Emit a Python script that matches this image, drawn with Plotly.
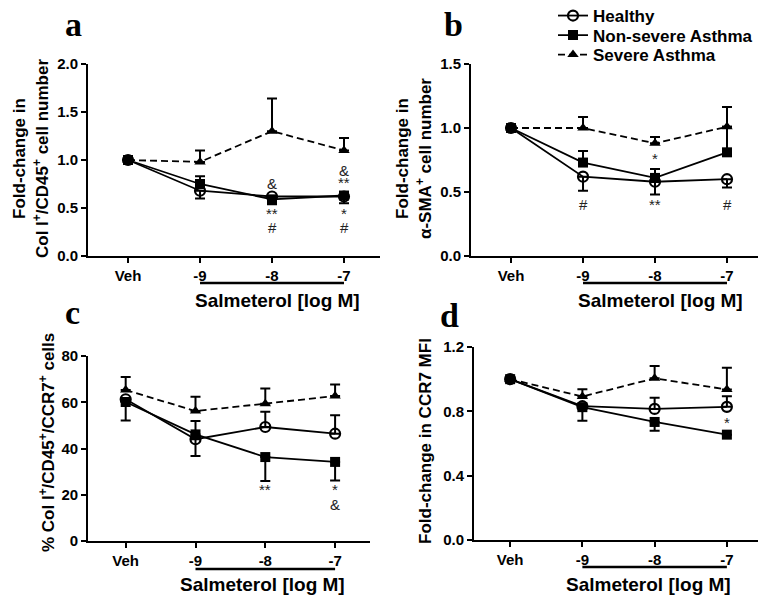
import plotly.graph_objects as go

# page is 766x596; the html body has an 8px margin, so the figure is 8px smaller
OFF = 8
W, H = 766 - OFF, 596 - OFF

# ---------------- data ----------------
categories = ["Veh", "-9", "-8", "-7"]
xpos = [0, 1, 2, 3]
series_names = ["Healthy", "Non-severe Asthma", "Severe Asthma"]

# panel a: Col I+/CD45+ fold change
a_healthy = [1.0, 0.68, 0.62, 0.62]
a_healthy_up = [0, 0, 0, 0]
a_healthy_dn = [0, 0.08, 0, 0.07]
a_nonsev = [1.0, 0.75, 0.59, 0.63]
a_nonsev_up = [0, 0.08, 0, 0.03]
a_nonsev_dn = [0, 0, 0.05, 0]
a_severe = [1.0, 0.98, 1.30, 1.10]
a_severe_up = [0, 0.12, 0.34, 0.13]
a_severe_dn = [0, 0, 0, 0]

# panel b: alpha-SMA+ fold change
b_healthy = [1.0, 0.62, 0.58, 0.60]
b_healthy_up = [0, 0, 0, 0]
b_healthy_dn = [0, 0.11, 0.10, 0.065]
b_nonsev = [1.0, 0.73, 0.61, 0.81]
b_nonsev_up = [0, 0.09, 0.07, 0.20]
b_nonsev_dn = [0, 0, 0, 0]
b_severe = [1.0, 1.0, 0.88, 1.01]
b_severe_up = [0, 0.085, 0.05, 0.155]
b_severe_dn = [0, 0, 0, 0]

# panel c: % Col I+/CD45+/CCR7+
c_healthy = [61.3, 44.0, 49.3, 46.4]
c_healthy_up = [0, 0, 6.6, 8.0]
c_healthy_dn = [0, 7.2, 0, 0]
c_nonsev = [60.1, 46.1, 36.3, 34.2]
c_nonsev_up = [0, 5.8, 0, 0]
c_nonsev_dn = [8.0, 0, 10.4, 8.0]
c_severe = [65.3, 56.2, 59.4, 62.7]
c_severe_up = [5.6, 6.2, 6.6, 5.0]
c_severe_dn = [0, 0, 0, 0]

# panel d: CCR7 MFI fold change
d_healthy = [1.0, 0.832, 0.815, 0.828]
d_healthy_up = [0, 0, 0.07, 0.066]
d_healthy_dn = [0, 0, 0, 0]
d_nonsev = [1.0, 0.826, 0.734, 0.655]
d_nonsev_up = [0, 0, 0, 0]
d_nonsev_dn = [0, 0.085, 0.055, 0]
d_severe = [1.0, 0.892, 1.005, 0.936]
d_severe_up = [0, 0.045, 0.077, 0.135]
d_severe_dn = [0, 0, 0, 0]

# significance marks: (panel, x index, y value, text)
sig_marks = [
    ("a", 2, 0.76, "&"), ("a", 2, 0.445, "**"), ("a", 2, 0.30, "#"),
    ("a", 3, 0.89, "&"), ("a", 3, 0.765, "**"), ("a", 3, 0.445, "*"), ("a", 3, 0.30, "#"),
    ("b", 1, 0.405, "#"), ("b", 2, 0.76, "*"), ("b", 2, 0.405, "**"), ("b", 3, 0.405, "#"),
    ("c", 2, 22.3, "**"), ("c", 3, 22.3, "*"), ("c", 3, 15.9, "&"),
    ("d", 3, 0.728, "*"),
]

y_ranges = {"a": [0, 2.0], "b": [0, 1.5], "c": [0, 80], "d": [0, 1.2]}
y_ticks = {"a": [0, 0.5, 1.0, 1.5, 2.0], "b": [0, 0.5, 1.0, 1.5],
           "c": [0, 20, 40, 60, 80], "d": [0, 0.4, 0.8, 1.2]}
y_ticktext = {"a": ["0.0", "0.5", "1.0", "1.5", "2.0"], "b": ["0.0", "0.5", "1.0", "1.5"],
              "c": ["0", "20", "40", "60", "80"], "d": ["0.0", "0.4", "0.8", "1.2"]}

panels = {
    "a": [(a_healthy, a_healthy_up, a_healthy_dn), (a_nonsev, a_nonsev_up, a_nonsev_dn), (a_severe, a_severe_up, a_severe_dn)],
    "b": [(b_healthy, b_healthy_up, b_healthy_dn), (b_nonsev, b_nonsev_up, b_nonsev_dn), (b_severe, b_severe_up, b_severe_dn)],
    "c": [(c_healthy, c_healthy_up, c_healthy_dn), (c_nonsev, c_nonsev_up, c_nonsev_dn), (c_severe, c_severe_up, c_severe_dn)],
    "d": [(d_healthy, d_healthy_up, d_healthy_dn), (d_nonsev, d_nonsev_up, d_nonsev_dn), (d_severe, d_severe_up, d_severe_dn)],
}

# ---------------- layout (page pixels) ----------------
geom = {
    "a": (88, 380, 64, 256, -0.556),
    "b": (471, 763, 64, 256, -0.556),
    "c": (88, 370, 356, 541, -0.54),
    "d": (474, 763, 347, 540, -0.5),
}
axis_ids = {"a": ("x", "y"), "b": ("x2", "y2"), "c": ("x3", "y3"), "d": ("x4", "y4")}


def px(x):
    return (x - OFF) / W


def py(y):
    return 1 - (y - OFF) / H


FONT = "Arial, Liberation Sans, Helvetica, sans-serif"
styles = [
    dict(line=dict(color="black", width=1.8), marker=dict(symbol="circle-open", size=10, color="black", line=dict(width=2.2, color="black"))),
    dict(line=dict(color="black", width=1.8), marker=dict(symbol="square", size=10, color="black")),
    dict(line=dict(color="black", width=1.8, dash="7px,4px"), marker=dict(symbol="triangle-up", size=10, color="black")),
]
legend_ids = ["legend", "legend2", "legend3"]
legend_rows_y = [16, 35.5, 55]

fig = go.Figure()
layout = dict()
annotations = []
shapes = []

for p, (x0, x1, yt, yb, xl) in geom.items():
    xa, ya = axis_ids[p]
    xkey = "xaxis" + xa[1:]
    ykey = "yaxis" + ya[1:]
    layout[xkey] = dict(domain=[px(x0), px(x1)], range=[xl, 3.5], anchor=ya,
                        tickvals=xpos, ticktext=categories, showline=True, linecolor="black",
                        linewidth=1.8, ticks="outside", ticklen=5, tickwidth=1.8, tickcolor="black",
                        showgrid=False, zeroline=False, fixedrange=True, automargin=False,
                        tickfont=dict(family=FONT, size=15, color="black", weight="bold"))
    layout[ykey] = dict(domain=[py(yb), py(yt)], range=y_ranges[p], anchor=xa,
                        tickvals=y_ticks[p], ticktext=y_ticktext[p], showline=True, linecolor="black",
                        linewidth=1.8, ticks="outside", ticklen=5, tickwidth=1.8, tickcolor="black",
                        showgrid=False, zeroline=False, fixedrange=True, automargin=False,
                        tickfont=dict(family=FONT, size=15, color="black", weight="bold"))
    for i in [2, 1, 0]:
        vals, up, dn = panels[p][i]
        st = styles[i]
        fig.add_trace(go.Scatter(
            x=xpos, y=vals, mode="lines+markers", name=series_names[i],
            xaxis=xa, yaxis=ya, line=st["line"], marker=st["marker"],
            showlegend=(p == "a"), legend=legend_ids[i],
            error_y=dict(type="data", symmetric=False, array=up, arrayminus=dn,
                         color="black", thickness=2, width=5),
        ))

for p, xi, yv, txt in sig_marks:
    xa, ya = axis_ids[p]
    annotations.append(dict(x=xi, y=yv, xref=xa, yref=ya, text=txt, showarrow=False,
                            xanchor="center", yanchor="middle",
                            font=dict(family=FONT, size=15, color="#222")))

letters = {"a": (73, 25), "b": (453, 25), "c": (72, 312.5), "d": (449, 315)}
for p, (lx, ly) in letters.items():
    annotations.append(dict(x=px(lx), y=py(ly), xref="paper", yref="paper", text=p,
                            showarrow=False, xanchor="center", yanchor="middle",
                            font=dict(family="Liberation Serif, Times New Roman, serif",
                                      size=34, color="black", weight="bold")))

ytitles = [
    (19, 159, "Fold-change in"), (41, 159, "Col I<sup>+</sup>/CD45<sup>+</sup> cell number"),
    (402, 159, "Fold-change in"), (424, 159, "α-SMA<sup>+</sup> cell number"),
    (47, 443, "% Col I<sup>+</sup>/CD45<sup>+</sup>/CCR7<sup>+</sup> cells"),
    (425, 441, "Fold-change in CCR7 MFI"),
]
for tx, ty, txt in ytitles:
    annotations.append(dict(x=px(tx), y=py(ty), xref="paper", yref="paper", text=txt,
                            textangle=-90, showarrow=False, xanchor="center", yanchor="middle",
                            font=dict(family=FONT, size=17, color="black", weight="bold")))

sal = {"a": (283, 300, 277), "b": (283, 300, 660), "c": (569, 584, 262), "d": (567, 584, 648)}
for p, (ul, lab, lx) in sal.items():
    xa, ya = axis_ids[p]
    shapes.append(dict(type="line", xref=xa, yref="paper", x0=1, x1=3, y0=py(ul), y1=py(ul),
                       line=dict(color="black", width=2.5)))
    annotations.append(dict(x=px(lx), y=py(lab), xref="paper", yref="paper",
                            text="Salmeterol [log M]", showarrow=False,
                            xanchor="center", yanchor="middle",
                            font=dict(family=FONT, size=19, color="black", weight="bold")))

legend_layout = {}
for lid, ly in zip(legend_ids, legend_rows_y):
    legend_layout[lid] = dict(x=px(553), y=py(ly), xanchor="left", yanchor="middle",
                              font=dict(family=FONT, size=17, color="black", weight="bold"),
                              bgcolor="rgba(0,0,0,0)", itemwidth=30)

fig.update_layout(
    width=W, height=H, margin=dict(l=0, r=0, t=0, b=0, autoexpand=False),
    paper_bgcolor="white", plot_bgcolor="white",
    annotations=annotations, shapes=shapes,
    **legend_layout,
    **layout,
)

fig.write_html("out.html")
